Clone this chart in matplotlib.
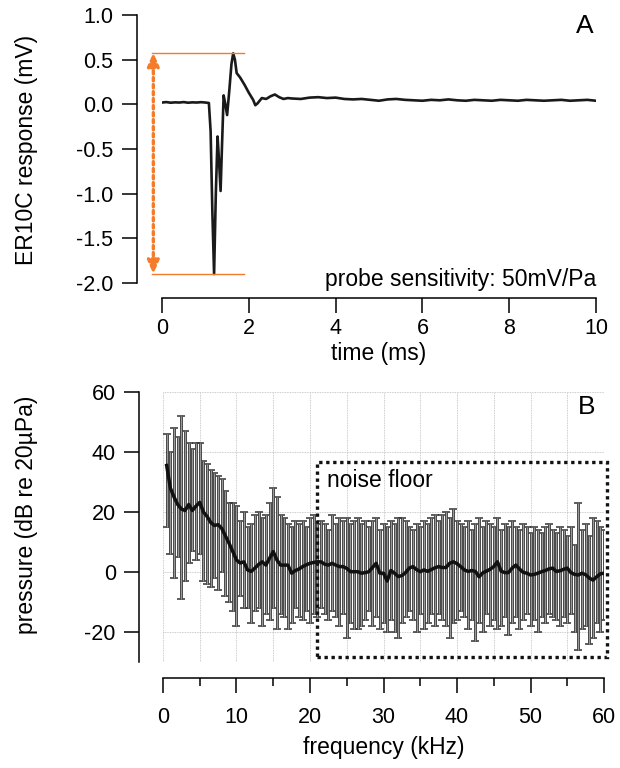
import numpy as np
import matplotlib.pyplot as plt
from matplotlib.patches import Rectangle
from matplotlib.ticker import MultipleLocator

plt.rcParams['font.family'] = ['Liberation Sans', 'DejaVu Sans']
plt.rcParams['axes.unicode_minus'] = False

# panel A: click response of the probe (ms, mV)
t_ms = [0.0, 0.1, 0.2, 0.3, 0.4, 0.5, 0.6, 0.7, 0.8, 0.9, 1.0, 1.08,
        1.12, 1.16, 1.2, 1.24, 1.28, 1.31, 1.35, 1.38, 1.42, 1.46, 1.5,
        1.55, 1.6, 1.64, 1.68, 1.72, 1.8, 1.9, 2.0, 2.1, 2.15, 2.2, 2.3,
        2.4, 2.5, 2.6, 2.7, 2.8, 2.9, 3.0, 3.2, 3.4, 3.6, 3.8, 4.0, 4.2,
        4.4, 4.6, 4.8, 5.0, 5.2, 5.4, 5.6, 5.8, 6.0, 6.2, 6.4, 6.6, 6.8,
        7.0, 7.2, 7.4, 7.6, 7.8, 8.0, 8.2, 8.4, 8.6, 8.8, 9.0, 9.2, 9.4,
        9.6, 9.8, 10.0]
v_mv = [0.02, 0.025, 0.018, 0.022, 0.02, 0.025, 0.018, 0.022, 0.02, 0.024,
        0.02, 0.015, -0.3, -1.2, -1.9, -1.0, -0.36, -0.6, -0.97, -0.5, 0.1,
        0.0, -0.12, 0.15, 0.45, 0.57, 0.5, 0.35, 0.3, 0.22, 0.13, 0.05,
        -0.01, 0.01, 0.07, 0.06, 0.09, 0.11, 0.08, 0.06, 0.07, 0.065, 0.06,
        0.075, 0.08, 0.07, 0.075, 0.06, 0.055, 0.06, 0.05, 0.04, 0.055, 0.06,
        0.05, 0.045, 0.04, 0.05, 0.045, 0.055, 0.045, 0.04, 0.05, 0.045,
        0.04, 0.05, 0.045, 0.04, 0.05, 0.045, 0.04, 0.045, 0.05, 0.04, 0.045,
        0.05, 0.04]
v_peak = 0.58
v_trough = -1.9

# panel B: spectrum, 0.5 kHz bins
freq = np.arange(0.5, 60.01, 0.5)
mean_db = [35.5, 28, 25, 22.5, 21, 20.5, 22.5, 20.5, 22, 23.2,
           20, 18.5, 16.5, 15.5, 15.8, 14.5, 12, 9.5, 6.8, 4,
           3, 3.4, 0.7, 0.2, 1.3, 2.5, 3.4, 2.3, 4.6, 6.8,
           4, 2.3, 2.3, 2.3, -0.4, 0.5, 1, 1.8, 2.4, 2.9,
           3.2, 3.4, 3.4, 2.6, 2.3, 2.9, 2.3, 1.8, 1.8, 1.2,
           0.1, 0.1, 0.1, -0.4, -0.2, 0.1, 1.5, 2.9, -0.4, -0.4,
           -3.0, 0.5, -0.4, -1.5, -1.2, -0.2, 1.3, 1.8, 0.8, 0.1,
           0.7, 0.2, 0.8, 1.4, 1.8, 1.5, 1.5, 2.9, 3.4, 2.8,
           1.8, 0.7, 0.2, 0.5, 0.2, -1.6, -0.3, 0.3, 0.9, 1.8,
           3.4, 0.3, -0.2, -0.2, 1.3, 2.3, 1.0, -0.1, -0.4, -1.0,
           -0.8, -0.4, 0.1, 0.5, 1.0, 1.3, 0.2, 0.4, 0.9, 1.3,
           -0.2, -0.8, -1.0, -0.4, -0.9, -2.0, -2.7, -1.6, -0.6, -0.4]
upper_db = [46, 40, 48, 45, 52, 47, 43, 41, 43, 43,
            37, 36, 34, 33, 32, 31, 27, 23, 23, 22,
            17, 20, 15, 16, 19, 20, 18, 19, 23, 28,
            25, 19, 18, 16, 15, 17, 16, 17, 15, 18,
            19, 16, 17, 16, 14, 19, 16, 18, 17, 18,
            16, 17, 18, 16, 17, 15, 17, 18, 14, 16,
            15, 17, 16, 18, 18, 17, 15, 14, 16, 15,
            17, 16, 18, 19, 17, 19, 20, 18, 21, 17,
            16, 15, 17, 14, 16, 18, 15, 17, 16, 15,
            18, 14, 16, 15, 17, 15, 14, 16, 15, 13,
            15, 14, 13, 15, 16, 14, 13, 15, 14, 12,
            15, 9, 23, 14, 16, 12, 18, 17, 15, 14]
lower_db = [15, 6, -2, 5, -9, -3, 3, 7, 4, 6,
            -3, -4, -5, -2, -6, 0, -8, -10, -13, -18,
            -8, -12, -12, -17, -13, -12, -18, -14, -16, -12,
            -19, -14, -15, -19, -17, -12, -15, -16, -13, -17,
            -14, -15, -12, -14, -16, -13, -15, -18, -14, -22,
            -17, -19, -19, -18, -16, -13, -18, -15, -19, -17,
            -20, -16, -20, -22, -17, -15, -13, -16, -20, -14,
            -19, -17, -14, -18, -14, -16, -18, -22, -17, -16,
            -13, -15, -19, -16, -23, -17, -20, -14, -18, -16,
            -19, -18, -15, -21, -17, -15, -19, -16, -14, -18,
            -16, -20, -15, -17, -14, -15, -16, -18, -15, -17,
            -14, -20, -26, -19, -18, -24, -22, -17, -20, -16]
noise_box = (21, -28.3, 39.4, 65)  # kHz, dB, width, height

orange = '#f47b2a'
TICK = 15.5
LAB = 16.5

fig = plt.figure(figsize=(6.2, 7.68), dpi=100)

# ---------- panel A ----------
ax = fig.add_axes([0.2613, 0.6315, 0.70, 0.349])
ax.plot(t_ms, v_mv, color='#1a1a1a', lw=1.9)
ax.set_xlim(0, 10)
ax.set_ylim(-2.0, 1.0)
ax.spines['top'].set_visible(False)
ax.spines['right'].set_visible(False)
ax.spines['left'].set_position(('outward', 18))
ax.spines['bottom'].set_position(('outward', 11))
for s in ('left', 'bottom'):
    ax.spines[s].set_linewidth(1.1)
ax.set_yticks([1.0, 0.5, 0.0, -0.5, -1.0, -1.5, -2.0])
ax.set_yticklabels(['1.0', '0.5', '0.0', '-0.5', '-1.0', '-1.5', '-2.0'])
ax.set_xticks([0, 2, 4, 6, 8, 10])
ax.tick_params(length=11, width=1.1, labelsize=TICK, pad=6)
ax.tick_params(axis='x', pad=3)

for yv in (v_peak, v_trough):
    ax.plot([-0.23, 1.9], [yv, yv], color=orange, lw=1.0, clip_on=False)
ax.annotate('', xy=(-0.2, v_peak), xytext=(-0.2, v_trough),
            arrowprops=dict(arrowstyle='<|-|>,head_length=0.8,head_width=0.35',
                            color=orange, lw=2.4, linestyle=(0, (1, 1.1)),
                            shrinkA=0, shrinkB=0),
            annotation_clip=False)
ax.text(10, -1.96, 'probe sensitivity: 50mV/Pa', ha='right', va='center',
        fontsize=LAB)
ax.text(9.75, 0.88, 'A', ha='center', va='center', fontsize=19)
ax.set_xlabel('time (ms)', fontsize=LAB, labelpad=2)

# ---------- panel B ----------
bx = fig.add_axes([0.2629, 0.138, 0.7113, 0.3516])
mean_arr = np.array(mean_db)
yerr = [mean_arr - np.array(lower_db), np.array(upper_db) - mean_arr]
bx.errorbar(freq, mean_arr, yerr=yerr, fmt='none', ecolor='#333333',
            elinewidth=2.1, capsize=3, capthick=1.1, zorder=2)
bx.vlines(freq, lower_db, upper_db, color='#999999', lw=1.0, zorder=2.5)
bx.plot(freq, mean_arr, color='#111111', lw=2.5, zorder=3)

bx.add_patch(Rectangle(noise_box[:2], noise_box[2], noise_box[3], fill=False,
                       edgecolor='#111111', lw=2.4, linestyle=(0, (1, 1.1)),
                       clip_on=False, zorder=4))
bx.text(22.3, 30.5, 'noise floor', fontsize=LAB, va='center', ha='left')
bx.text(57.7, 55, 'B', ha='center', va='center', fontsize=19)

bx.set_xlim(0, 60)
bx.set_ylim(-30, 60)
bx.xaxis.set_major_locator(MultipleLocator(10))
bx.xaxis.set_minor_locator(MultipleLocator(5))
bx.set_yticks([60, 40, 20, 0, -20])
bx.grid(True, which='both', axis='x', color='#bbbbbb', lw=0.6, linestyle=(0, (1, 1)))
bx.grid(True, which='major', axis='y', color='#bbbbbb', lw=0.6, linestyle=(0, (1, 1)))
bx.set_axisbelow(True)
for s in ('top', 'right'):
    bx.spines[s].set_visible(False)
bx.spines['left'].set_position(('outward', 17))
bx.spines['bottom'].set_position(('outward', 11.5))
for s in ('left', 'bottom'):
    bx.spines[s].set_linewidth(1.1)
bx.tick_params(which='major', length=11, width=1.1, labelsize=TICK, pad=6)
bx.tick_params(axis='x', which='major', pad=10)
bx.tick_params(which='minor', length=6, width=1.1)
bx.set_xlabel('frequency (kHz)', fontsize=LAB, labelpad=6)

fig.text(0.043, 0.805, 'ER10C response (mV)', rotation=90, fontsize=LAB,
         ha='center', va='center')
fig.text(0.043, 0.33, 'pressure (dB re 20\u00b5Pa)', rotation=90, fontsize=LAB,
         ha='center', va='center')

fig.savefig('out.png', dpi=100)
